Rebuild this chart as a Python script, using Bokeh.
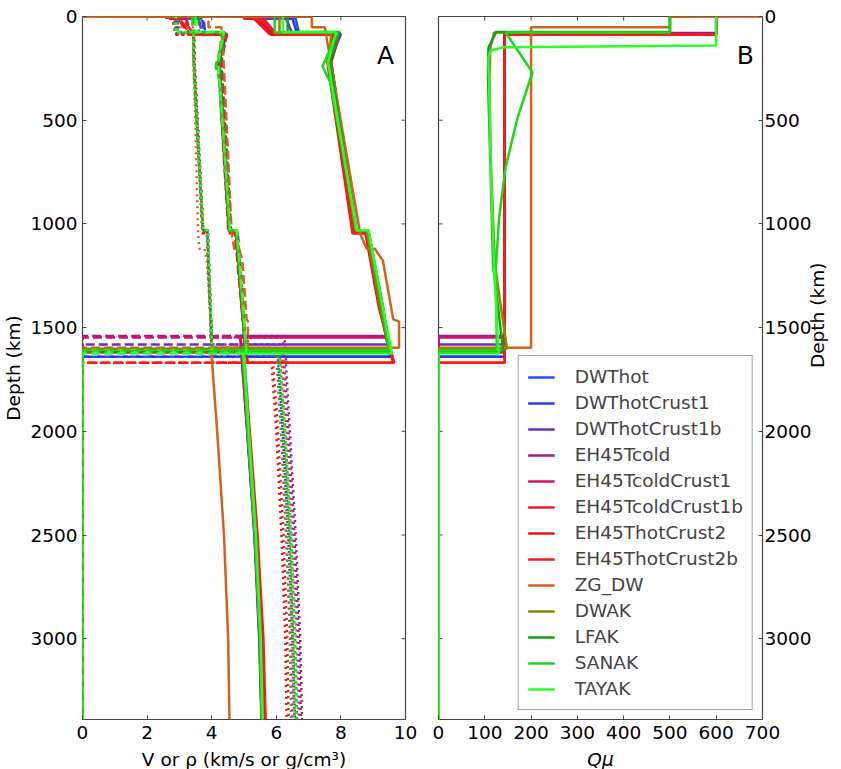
import math
from bokeh.plotting import figure
from bokeh.layouts import row
from bokeh.models import Range1d, LinearAxis, FixedTicker, Label, Legend, LegendItem
from bokeh.embed import file_html
from bokeh.resources import INLINE

MODELS = ["DWThot", "DWThotCrust1", "DWThotCrust1b", "EH45Tcold", "EH45TcoldCrust1",
          "EH45TcoldCrust1b", "EH45ThotCrust2", "EH45ThotCrust2b", "ZG_DW", "DWAK",
          "LFAK", "SANAK", "TAYAK"]

COLORS = {
    "DWThot": "#1f4fff", "DWThotCrust1": "#2a3ae8", "DWThotCrust1b": "#6a2fc4",
    "EH45Tcold": "#a0189a", "EH45TcoldCrust1": "#d4106a", "EH45TcoldCrust1b": "#f41a2a",
    "EH45ThotCrust2": "#f01010", "EH45ThotCrust2b": "#ff1818", "ZG_DW": "#d4621c",
    "DWAK": "#8a8a00", "LFAK": "#16a016", "SANAK": "#1ad81a", "TAYAK": "#28ff28",
}

# ---- Panel A: depth (km) and Vp, Vs (km/s), rho (g/cm3) ----
DEPTH_A = {
    "DWThot":           [0, 10, 10, 80, 80, 220, 1030, 1030, 1400, 1640, 1640, 2000, 2500, 3000, 3389.5],
    "DWThotCrust1":     [0, 10, 10, 86, 86, 220, 1030, 1030, 1400, 1640, 1640, 2000, 2500, 3000, 3389.5],
    "DWThotCrust1b":    [0, 10, 10, 83, 83, 220, 1030, 1030, 1400, 1582, 1582, 2000, 2500, 3000, 3389.5],
    "EH45Tcold":        [0, 10, 10, 82, 82, 220, 1040, 1040, 1400, 1540, 1540, 2000, 2500, 3000, 3389.5],
    "EH45TcoldCrust1":  [0, 10, 10, 85, 85, 220, 1040, 1040, 1400, 1548, 1548, 2000, 2500, 3000, 3389.5],
    "EH45TcoldCrust1b": [0, 10, 10, 86, 86, 220, 1035, 1035, 1400, 1620, 1620, 2000, 2500, 3000, 3389.5],
    "EH45ThotCrust2":   [0, 10, 10, 88, 88, 220, 1045, 1045, 1400, 1669, 1669, 2000, 2500, 3000, 3389.5],
    "EH45ThotCrust2b":  [0, 10, 10, 88, 88, 220, 1045, 1045, 1400, 1669, 1669, 2000, 2500, 3000, 3389.5],
    "ZG_DW":            [0, 1, 52, 52, 250, 1050, 1120, 1120, 1177, 1460, 1470, 1597, 1597, 2000, 2500, 3000, 3389.5],
    "DWAK":             [0, 77, 77, 220, 1030, 1030, 1400, 1602, 1602, 2000, 2500, 3000, 3389.5],
    "LFAK":             [0, 75, 75, 220, 1030, 1030, 1400, 1615, 1615, 2000, 2500, 3000, 3389.5],
    "SANAK":            [0, 77, 77, 240, 320, 1030, 1030, 1400, 1610, 1610, 2000, 2500, 3000, 3389.5],
    "TAYAK":            [0, 75, 75, 220, 1030, 1030, 1400, 1625, 1625, 2000, 2500, 3000, 3389.5],
}
VP = {
    "DWThot":           [5.6, 5.6, 6.6, 6.7, 7.98, 7.62, 8.45, 8.82, 9.24, 9.52, 4.95, 5.12, 5.33, 5.48, 5.55],
    "DWThotCrust1":     [5.5, 5.5, 6.5, 6.65, 8.0, 7.64, 8.47, 8.84, 9.26, 9.55, 4.97, 5.14, 5.35, 5.5, 5.57],
    "DWThotCrust1b":    [5.2, 5.2, 6.3, 6.5, 7.97, 7.6, 8.43, 8.8, 9.22, 9.45, 4.9, 5.1, 5.32, 5.47, 5.54],
    "EH45Tcold":        [5.0, 5.0, 5.4, 5.9, 7.95, 7.7, 8.48, 8.85, 9.3, 9.42, 4.88, 5.1, 5.33, 5.5, 5.56],
    "EH45TcoldCrust1":  [5.2, 5.2, 5.6, 6.0, 7.96, 7.7, 8.49, 8.86, 9.3, 9.44, 4.9, 5.11, 5.34, 5.5, 5.57],
    "EH45TcoldCrust1b": [5.0, 5.0, 5.3, 5.8, 7.9, 7.62, 8.4, 8.78, 9.2, 9.5, 4.95, 5.13, 5.36, 5.55, 5.62],
    "EH45ThotCrust2":   [5.1, 5.1, 5.4, 5.85, 7.75, 7.58, 8.36, 8.76, 9.17, 9.62, 5.0, 5.16, 5.4, 5.58, 5.65],
    "EH45ThotCrust2b":  [5.3, 5.3, 5.5, 6.0, 7.8, 7.6, 8.38, 8.78, 9.19, 9.65, 5.02, 5.18, 5.42, 5.6, 5.67],
    "ZG_DW":            [0.0, 7.1, 7.1, 7.5, 7.72, 8.6, 8.8, 9.05, 9.3, 9.62, 9.8, 9.8, 3.98, 4.17, 4.38, 4.51, 4.55],
    "DWAK":             [6.1, 6.1, 7.7, 7.64, 8.45, 8.8, 9.22, 9.48, 4.95, 5.12, 5.34, 5.49, 5.55],
    "LFAK":             [6.35, 6.35, 7.95, 7.66, 8.47, 8.84, 9.26, 9.52, 4.97, 5.13, 5.35, 5.5, 5.56],
    "SANAK":            [5.95, 5.95, 7.9, 7.43, 7.68, 8.47, 8.84, 9.28, 9.5, 4.96, 5.12, 5.34, 5.5, 5.56],
    "TAYAK":            [6.2, 6.2, 7.85, 7.6, 8.49, 8.86, 9.3, 9.58, 5.0, 5.15, 5.37, 5.52, 5.58],
}
VS = {
    "DWThot":           [3.1, 3.1, 3.75, 3.8, 4.42, 4.22, 4.55, 4.76, 4.95, 5.05, 0, 0, 0, 0, 0],
    "DWThotCrust1":     [3.0, 3.0, 3.7, 3.78, 4.45, 4.23, 4.56, 4.77, 4.96, 5.06, 0, 0, 0, 0, 0],
    "DWThotCrust1b":    [2.9, 2.9, 3.6, 3.7, 4.43, 4.2, 4.53, 4.74, 4.93, 5.02, 0, 0, 0, 0, 0],
    "EH45Tcold":        [2.7, 2.7, 3.0, 3.3, 4.45, 4.3, 4.6, 4.8, 4.98, 5.02, 0, 0, 0, 0, 0],
    "EH45TcoldCrust1":  [2.8, 2.8, 3.2, 3.4, 4.46, 4.3, 4.6, 4.8, 4.98, 5.03, 0, 0, 0, 0, 0],
    "EH45TcoldCrust1b": [2.7, 2.7, 2.95, 3.3, 4.48, 4.25, 4.55, 4.75, 4.94, 5.05, 0, 0, 0, 0, 0],
    "EH45ThotCrust2":   [2.8, 2.8, 3.0, 3.35, 4.35, 4.2, 4.52, 4.72, 4.92, 5.1, 0, 0, 0, 0, 0],
    "EH45ThotCrust2b":  [2.9, 2.9, 3.1, 3.45, 4.38, 4.22, 4.54, 4.74, 4.94, 5.12, 0, 0, 0, 0, 0],
    "ZG_DW":            [0.0, 3.9, 3.9, 4.3, 4.38, 4.62, 4.7, 4.85, 4.95, 5.08, 5.12, 5.12, 0, 0, 0, 0, 0],
    "DWAK":             [3.45, 3.45, 4.3, 4.24, 4.55, 4.75, 4.95, 5.04, 0, 0, 0, 0, 0],
    "LFAK":             [3.6, 3.6, 4.4, 4.25, 4.56, 4.77, 4.96, 5.05, 0, 0, 0, 0, 0],
    "SANAK":            [3.4, 3.4, 4.4, 4.12, 4.26, 4.55, 4.76, 4.96, 5.05, 0, 0, 0, 0, 0],
    "TAYAK":            [3.5, 3.5, 4.38, 4.2, 4.57, 4.78, 4.97, 5.08, 0, 0, 0, 0, 0],
}
RHO = {
    "DWThot":           [2.7, 2.7, 2.95, 2.98, 3.44, 3.45, 3.72, 3.87, 3.95, 4.0, 6.0, 6.15, 6.3, 6.45, 6.5],
    "DWThotCrust1":     [2.65, 2.65, 2.9, 2.95, 3.45, 3.46, 3.73, 3.88, 3.96, 4.01, 6.05, 6.2, 6.37, 6.5, 6.56],
    "DWThotCrust1b":    [2.6, 2.6, 2.85, 2.9, 3.45, 3.45, 3.72, 3.86, 3.95, 3.99, 6.15, 6.33, 6.5, 6.64, 6.7],
    "EH45Tcold":        [2.6, 2.6, 2.8, 2.9, 3.44, 3.46, 3.74, 3.88, 3.97, 3.99, 6.25, 6.42, 6.6, 6.74, 6.8],
    "EH45TcoldCrust1":  [2.62, 2.62, 2.82, 2.92, 3.45, 3.47, 3.74, 3.88, 3.97, 3.99, 6.2, 6.38, 6.56, 6.7, 6.76],
    "EH45TcoldCrust1b": [2.6, 2.6, 2.78, 2.88, 3.46, 3.47, 3.74, 3.87, 3.96, 4.01, 6.1, 6.27, 6.45, 6.58, 6.64],
    "EH45ThotCrust2":   [2.62, 2.62, 2.8, 2.9, 3.43, 3.44, 3.71, 3.85, 3.94, 4.02, 5.85, 6.0, 6.16, 6.28, 6.32],
    "EH45ThotCrust2b":  [2.64, 2.64, 2.82, 2.92, 3.44, 3.45, 3.72, 3.86, 3.95, 4.03, 5.9, 6.05, 6.22, 6.34, 6.38],
    "ZG_DW":            [0.0, 3.05, 3.05, 3.42, 3.45, 3.58, 3.62, 3.78, 3.85, 3.97, 4.0, 4.02, 6.15, 6.28, 6.42, 6.52, 6.56],
    "DWAK":             [2.9, 2.9, 3.42, 3.45, 3.72, 3.86, 3.95, 4.0, 6.0, 6.15, 6.32, 6.42, 6.46],
    "LFAK":             [2.95, 2.95, 3.44, 3.45, 3.73, 3.87, 3.96, 4.01, 6.05, 6.22, 6.4, 6.52, 6.58],
    "SANAK":            [2.85, 2.85, 3.43, 3.43, 3.46, 3.73, 3.87, 3.96, 4.0, 6.08, 6.26, 6.44, 6.57, 6.62],
    "TAYAK":            [2.9, 2.9, 3.44, 3.46, 3.74, 3.88, 3.97, 4.02, 6.1, 6.28, 6.47, 6.6, 6.66],
}

# ---- Panel B: shear quality factor ----
DEPTH_Q = {
    "DWThot":           [0, 80, 80, 1640, 1640, 3389.5],
    "DWThotCrust1":     [0, 86, 86, 1640, 1640, 3389.5],
    "DWThotCrust1b":    [0, 83, 83, 1582, 1582, 3389.5],
    "EH45Tcold":        [0, 82, 82, 1540, 1540, 3389.5],
    "EH45TcoldCrust1":  [0, 85, 85, 1548, 1548, 3389.5],
    "EH45TcoldCrust1b": [0, 86, 86, 1620, 1620, 3389.5],
    "EH45ThotCrust2":   [0, 88, 88, 1669, 1669, 3389.5],
    "EH45ThotCrust2b":  [0, 88, 88, 1669, 1669, 3389.5],
    "ZG_DW":            [0, 1, 52, 52, 1597, 1597, 3389.5],
    "DWAK":             [0, 77, 77, 150, 300, 700, 1200, 1602, 1602, 3389.5],
    "LFAK":             [0, 75, 75, 150, 300, 700, 1200, 1615, 1615, 3389.5],
    "SANAK":            [0, 77, 77, 270, 486, 727, 968, 1210, 1610, 1610, 3389.5],
    "TAYAK":            [0, 140, 148, 165, 200, 400, 727, 1210, 1625, 1625, 3389.5],
}
QMU = {
    "DWThot":           [600, 600, 143, 143, 0, 0],
    "DWThotCrust1":     [600, 600, 143, 143, 0, 0],
    "DWThotCrust1b":    [600, 600, 143, 143, 0, 0],
    "EH45Tcold":        [600, 600, 143, 143, 0, 0],
    "EH45TcoldCrust1":  [600, 600, 143, 143, 0, 0],
    "EH45TcoldCrust1b": [600, 600, 143, 143, 0, 0],
    "EH45ThotCrust2":   [600, 600, 143, 143, 0, 0],
    "EH45ThotCrust2b":  [600, 600, 143, 143, 0, 0],
    "ZG_DW":            [1000, 500, 500, 200, 200, 0, 0],
    "DWAK":             [500, 500, 120, 112, 110, 113, 122, 148, 0, 0],
    "LFAK":             [500, 500, 125, 108, 107, 112, 118, 140, 0, 0],
    "SANAK":            [500, 500, 145, 203, 171, 145, 131, 124, 126, 0, 0],
    "TAYAK":            [600, 600, 140, 112, 108, 110, 113, 120, 130, 0, 0],
}

X_TICKS_A = [0, 2, 4, 6, 8, 10]
X_TICKS_B = [0, 100, 200, 300, 400, 500, 600, 700]
Y_TICKS = [0, 500, 1000, 1500, 2000, 2500, 3000]
R_MARS = 3389.5

FONT = "DejaVu Sans"
FS = "18.5px"
EDGE = "#444444"
LW = 2.5
FRAME_H = 703
FW_A, FW_B = 323, 324
TICK_PX = 4


def style_axis(ax):
    ax.major_tick_in = TICK_PX
    ax.major_tick_out = 0
    ax.minor_tick_in = 0
    ax.minor_tick_out = 0
    ax.major_tick_line_color = EDGE
    ax.axis_line_color = None
    ax.major_label_text_font = FONT
    ax.major_label_text_font_size = FS
    ax.major_label_text_color = "black"
    ax.axis_label_text_font = FONT
    ax.axis_label_text_font_size = FS
    ax.axis_label_text_color = "black"
    ax.axis_label_text_font_style = "normal"


def make_fig(xr, ml, mr, fw):
    p = figure(x_range=xr, y_range=Range1d(R_MARS, 0), frame_width=fw, frame_height=FRAME_H,
               min_border_left=ml, min_border_right=mr, min_border_top=16, min_border_bottom=45,
               output_backend="svg", toolbar_location=None, y_axis_location=None)
    p.xgrid.visible = False
    p.ygrid.visible = False
    p.outline_line_color = EDGE
    p.outline_line_width = 1.2
    p.background_fill_color = "white"
    p.border_fill_color = "white"
    return p


def mirror_ticks(p, xticks, x_side, xspan, fw):
    # inward tick marks on the top edge and on the unlabelled vertical edge
    dy = TICK_PX * R_MARS / FRAME_H
    dx = TICK_PX * xspan / fw
    p.segment(x0=xticks, y0=[0] * len(xticks), x1=xticks, y1=[dy] * len(xticks),
              line_color=EDGE, line_width=1)
    x1 = x_side - dx if x_side > 0 else dx
    p.segment(x0=[x_side] * len(Y_TICKS), y0=Y_TICKS, x1=[x1] * len(Y_TICKS), y1=Y_TICKS,
              line_color=EDGE, line_width=1)


# ---------------- Panel A ----------------
pa = make_fig(Range1d(0, 10), 79, 14, FW_A)
pa.xaxis.ticker = FixedTicker(ticks=X_TICKS_A)
pa.xaxis.axis_label = "V or ρ (km/s or g/cm³)"
style_axis(pa.xaxis[0])
pa.xaxis.major_label_standoff = 6
pa.xaxis.axis_label_standoff = 7

ya = LinearAxis(ticker=FixedTicker(ticks=Y_TICKS), axis_label="Depth (km)")
style_axis(ya)
ya.major_label_standoff = 5
ya.axis_label_standoff = 3
pa.add_layout(ya, "left")
mirror_ticks(pa, X_TICKS_A, 10, 10, FW_A)

for m in MODELS:
    c = COLORS[m]
    pa.line(RHO[m], DEPTH_A[m], line_color=c, line_width=LW, line_dash="2 4")
    pa.line(VS[m], DEPTH_A[m], line_color=c, line_width=LW, line_dash="9 4")
    pa.line(VP[m], DEPTH_A[m], line_color=c, line_width=LW)

pa.add_layout(Label(x=9.38, y=188, text="A", text_align="center", text_baseline="alphabetic",
                    text_font=FONT, text_font_size="25px", text_color="black"))

# ---------------- Panel B ----------------
pb = make_fig(Range1d(0, 700), 19, 73, FW_B)
pb.xaxis.ticker = FixedTicker(ticks=X_TICKS_B)
pb.xaxis.axis_label = "Qμ"
style_axis(pb.xaxis[0])
pb.xaxis.major_label_standoff = 6
pb.xaxis.axis_label_standoff = 7
pb.xaxis.axis_label_text_font_style = "italic"

yb = LinearAxis(ticker=FixedTicker(ticks=Y_TICKS), axis_label="Depth (km)")
style_axis(yb)
yb.major_label_standoff = 2
yb.axis_label_standoff = 3
try:
    yb.axis_label_orientation = math.pi / 2
except (AttributeError, ValueError):
    pass
pb.add_layout(yb, "right")
mirror_ticks(pb, X_TICKS_B, 0, 700, FW_B)

items = []
for m in MODELS:
    r = pb.line(QMU[m], DEPTH_Q[m], line_color=COLORS[m], line_width=LW)
    items.append(LegendItem(label=m, renderers=[r]))

pb.add_layout(Label(x=663, y=188, text="B", text_align="center", text_baseline="alphabetic",
                    text_font=FONT, text_font_size="25px", text_color="black"))

legend = Legend(items=items, location="bottom_right", margin=9, padding=9, spacing=3,
                label_height=23, glyph_height=20, glyph_width=27, label_standoff=20,
                label_text_font=FONT, label_text_font_size=FS,
                border_line_color=EDGE, border_line_width=1.5,
                background_fill_color="white", background_fill_alpha=1.0)
pb.add_layout(legend, "center")

layout = row(pa, pb)
open("out.html", "w").write(file_html(layout, INLINE))
